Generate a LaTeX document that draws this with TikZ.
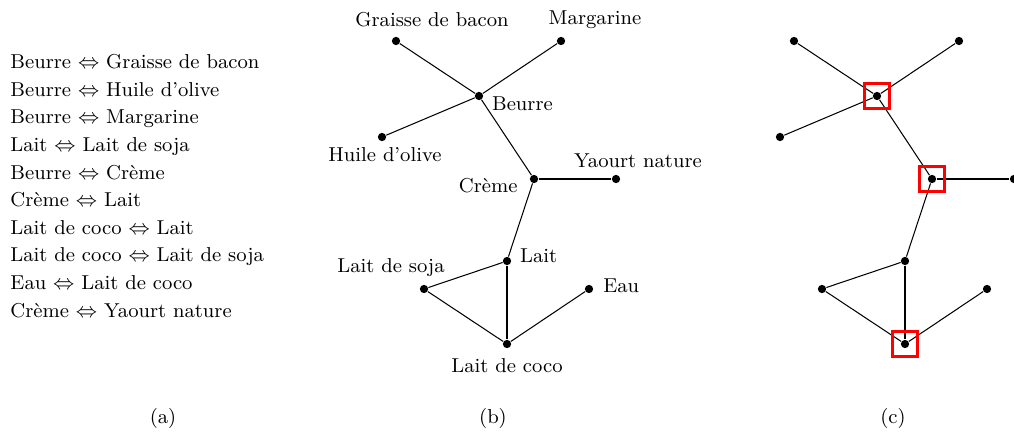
\documentclass[tikz,border=0pt]{standalone}
\usepackage{amsmath, amssymb}
\usepackage{xcolor}
\usepackage{tikz}
\usetikzlibrary{positioning}

\begin{document}
\begin{tikzpicture}[x=0.435pt, y=-0.435pt,
  every node/.style={font=\fontsize{8.75pt}{12pt}\selectfont},
  dot/.style={circle, fill=black, inner sep=0pt, minimum size=3.6pt},
  lbl/.style={inner sep=0pt},
  edge/.style={black, line width=0.45pt},
  pick/.style={draw=red, line width=1.2pt, minimum size=10.8pt, inner sep=0pt}]
\useasboundingbox (0,0) rectangle (1014,433);

% (a) liste des paires
\node[lbl, anchor=west, align=left] (liste) at (10,186)
  {Beurre $\Leftrightarrow$ Graisse de bacon\\
   Beurre $\Leftrightarrow$ Huile d'olive\\
   Beurre $\Leftrightarrow$ Margarine\\
   Lait $\Leftrightarrow$ Lait de soja\\
   Beurre $\Leftrightarrow$ Cr\`eme\\
   Cr\`eme $\Leftrightarrow$ Lait\\
   Lait de coco $\Leftrightarrow$ Lait\\
   Lait de coco $\Leftrightarrow$ Lait de soja\\
   Eau $\Leftrightarrow$ Lait de coco\\
   Cr\`eme $\Leftrightarrow$ Yaourt nature};

% (b) et (c) le graphe
\foreach \p/\dx in {b/0, c/398} {
  \foreach \n/\x/\y in {gr/396/41, ma/561/41, be/479/96, hu/382/137,
      cr/534/179, ya/616/179, la/507/261, so/424/289, ea/589/289, co/507/344}
    \node[dot] (\p\n) at (\x+\dx,\y) {};
  \foreach \s/\t in {be/gr, be/ma, be/hu, be/cr, cr/ya, cr/la,
      la/so, la/co, so/co, co/ea}
    \draw[edge] (\p\s) -- (\p\t);
}

% etiquettes de (b)
\node[lbl] (tgr) at (432,20) {Graisse de bacon};
\node[lbl] (tma) at (595,20) {Margarine};
\node[lbl, right=3.5pt of bbe, yshift=-3.5pt] (tbe) {Beurre};
\node[lbl] (thu) at (385,155) {Huile d'olive};
\node[lbl, left=5pt of bcr, yshift=-3pt] (tcr) {Cr\`eme};
\node[lbl] (tya) at (638,161) {Yaourt nature};
\node[lbl, right=3.5pt of bla, yshift=2.5pt] (tla) {Lait};
\node[lbl] (tso) at (391,268) {Lait de soja};
\node[lbl, right=4pt of bea, yshift=1.5pt] (tea) {Eau};
\node[lbl] (tco) at (507,366) {Lait de coco};

% (c) sommets choisis
\foreach \n in {be, cr, co}
  \node[pick] (k\n) at (c\n) {};

% legendes
\node[lbl] (capa) at (163,418) {(a)};
\node[lbl] (capb) at (493,418) {(b)};
\node[lbl] (capc) at (893,418) {(c)};
\end{tikzpicture}
\end{document}
